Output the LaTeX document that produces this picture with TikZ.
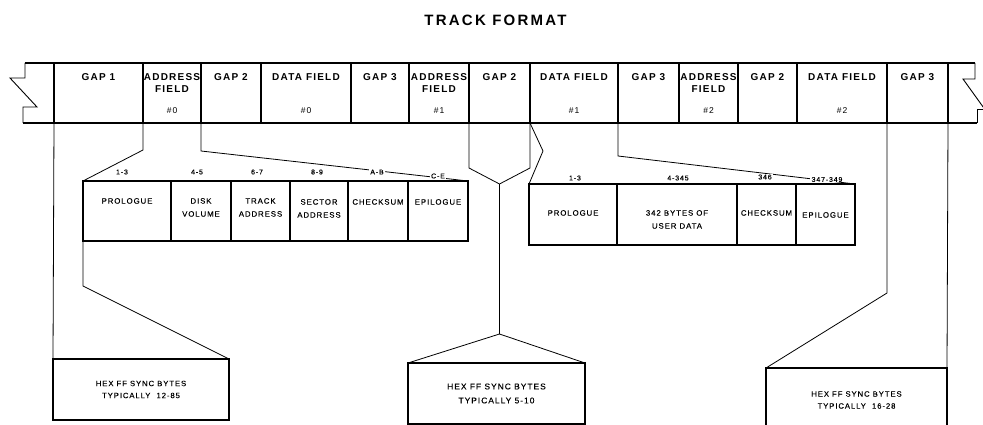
\documentclass[tikz,border=0pt]{standalone}
\usepackage{fontspec}
\setmainfont{Liberation Sans}
\newfontfamily\spaced[LetterSpace=12]{Liberation Sans}
\newfontfamily\spacedmed[LetterSpace=12, FakeBold=0.3]{Liberation Sans}
\newfontfamily\titlefont[LetterSpace=15]{Liberation Sans}
\tikzset{
  cell/.style={draw, line width=1.5pt, minimum height=60pt, inner sep=0pt, outer sep=0pt},
  sub/.style={draw, line width=1.5pt, inner sep=0pt, outer sep=0pt},
  conn/.style={line width=0.8pt},
  notch/.style={line width=0.9pt},
  big/.style={font=\spaced\bfseries\fontsize{10}{12}\selectfont, inner sep=0pt, align=center, anchor=north},
  num/.style={font=\spaced\fontsize{8.5}{10}\selectfont, inner sep=0pt, anchor=south},
  small/.style={font=\spacedmed\fontsize{7.8}{13}\selectfont, inner sep=0pt, align=center, anchor=north},
  idx/.style={font=\spacedmed\fontsize{7}{8}\selectfont, inner xsep=1.5pt, inner ysep=0.4pt, fill=white},
  sync/.style={draw, line width=1.5pt, inner sep=0pt, outer sep=0pt, align=center, font=\spacedmed\fontsize{7.7}{12}\selectfont},
}
\begin{document}
\begin{tikzpicture}[x=1pt,y=-1pt]
\path[use as bounding box] (0,0) rectangle (983,425);
\clip (0,0) rectangle (983,425);

% title
\node[font=\titlefont\bfseries\fontsize{15}{18}\selectfont, inner sep=0pt] (title) at (495.5,20.5) {TRACK FORMAT};

% track strip cells
\node[cell, minimum width=89pt] (c1) at (98.5,93) {};
\node[cell, minimum width=58pt] (c2) at (172,93) {};
\node[cell, minimum width=60pt] (c3) at (231,93) {};
\node[cell, minimum width=90pt] (c4) at (306,93) {};
\node[cell, minimum width=58pt] (c5) at (380,93) {};
\node[cell, minimum width=60pt] (c6) at (439,93) {};
\node[cell, minimum width=61pt] (c7) at (499.5,93) {};
\node[cell, minimum width=88pt] (c8) at (574,93) {};
\node[cell, minimum width=61pt] (c9) at (648.5,93) {};
\node[cell, minimum width=59pt] (c10) at (708.5,93) {};
\node[cell, minimum width=59pt] (c11) at (767.5,93) {};
\node[cell, minimum width=90pt] (c12) at (842,93) {};
\node[cell, minimum width=61pt] (c13) at (917.5,93) {};

\node[big] (t1) at ([yshift=-10pt]c1.north) {GAP 1};
\node[big] (t2) at ([yshift=-10pt]c2.north) {ADDRESS\\FIELD};
\node[big] (t3) at ([yshift=-10pt]c3.north) {GAP 2};
\node[big] (t4) at ([yshift=-10pt]c4.north) {DATA FIELD};
\node[big] (t5) at ([yshift=-10pt]c5.north) {GAP 3};
\node[big] (t6) at ([yshift=-10pt]c6.north) {ADDRESS\\FIELD};
\node[big] (t7) at ([yshift=-10pt]c7.north) {GAP 2};
\node[big] (t8) at ([yshift=-10pt]c8.north) {DATA FIELD};
\node[big] (t9) at ([yshift=-10pt]c9.north) {GAP 3};
\node[big] (t10) at ([yshift=-10pt]c10.north) {ADDRESS\\FIELD};
\node[big] (t11) at ([yshift=-10pt]c11.north) {GAP 2};
\node[big] (t12) at ([yshift=-10pt]c12.north) {DATA FIELD};
\node[big] (t13) at ([yshift=-10pt]c13.north) {GAP 3};

\node[num] (n2) at ([yshift=9pt]c2.south) {\#0};
\node[num] (n4) at ([yshift=9pt]c4.south) {\#0};
\node[num] (n6) at ([yshift=9pt]c6.south) {\#1};
\node[num] (n8) at ([yshift=9pt]c8.south) {\#1};
\node[num] (n10) at ([yshift=9pt]c10.south) {\#2};
\node[num] (n12) at ([yshift=9pt]c12.south) {\#2};

% torn ends of the strip
\draw[line width=1.5pt] (c1.north west) -- (25,63);
\draw[line width=1.5pt] (c1.south west) -- (23,123);
\draw[notch] (25,63) -- (25,78) -- (10,78) -- (37,107) -- (23,107) -- (23,123);
\draw[line width=1.5pt] (c13.north east) -- (975,63);
\draw[line width=1.5pt] (c13.south east) -- (977,123);
\draw[notch] (975,63) -- (975,79) -- (963,79) -- (986,111);
\draw[notch] (986,109) -- (977,109) -- (977,123);

% address field breakdown
\node[sub, minimum width=88pt, minimum height=60pt] (a1) at (127,211) {};
\node[sub, minimum width=60pt, minimum height=60pt] (a2) at (201,211) {};
\node[sub, minimum width=59pt, minimum height=60pt] (a3) at (260.5,211) {};
\node[sub, minimum width=58pt, minimum height=60pt] (a4) at (319,211) {};
\node[sub, minimum width=60pt, minimum height=60pt] (a5) at (378,211) {};
\node[sub, minimum width=60pt, minimum height=60pt] (a6) at (438,211) {};
\node[small] (at1) at ([yshift=-17pt]a1.north) {PROLOGUE};
\node[small] (at2) at ([yshift=-17pt]a2.north) {DISK\\VOLUME};
\node[small] (at3) at ([yshift=-17pt]a3.north) {TRACK\\ADDRESS};
\node[small] (at4) at ([yshift=-18pt]a4.north) {SECTOR\\ADDRESS};
\node[small] (at5) at ([yshift=-18pt]a5.north) {CHECKSUM};
\node[small] (at6) at ([yshift=-18pt]a6.north) {EPILOGUE};

% data field breakdown
\node[sub, minimum width=88pt, minimum height=61pt] (d1) at (573,214.5) {};
\node[sub, minimum width=120pt, minimum height=61pt] (d2) at (677,214.5) {};
\node[sub, minimum width=59pt, minimum height=61pt] (d3) at (766.5,214.5) {};
\node[sub, minimum width=59pt, minimum height=61pt] (d4) at (825.5,214.5) {};
\node[small] (dt1) at ([yshift=-26pt]d1.north) {PROLOGUE};
\node[small] (dt2) at ([yshift=-26pt]d2.north) {342 BYTES OF\\USER DATA};
\node[small] (dt3) at ([yshift=-26pt]d3.north) {CHECKSUM};
\node[small] (dt4) at ([yshift=-28pt]d4.north) {EPILOGUE};

% sync boxes
\node[sync, minimum width=176pt, minimum height=61pt] (s1) at (141,389.5) {HEX FF SYNC BYTES\\TYPICALLY\ \ 12-85};
\node[sync, minimum width=177pt, minimum height=61pt, font=\spacedmed\fontsize{8.4}{14}\selectfont] (s2) at (496.5,393.5) {HEX FF SYNC BYTES\\TYPICALLY 5-10};
\node[sync, minimum width=181pt, minimum height=64pt] (s3) at (856.5,400) {HEX FF SYNC BYTES\\TYPICALLY\ \ 16-28};

% connectors
\coordinate (v) at (499.5,184);
\coordinate (w) at (499.5,334);
\coordinate (dk) at (543,151);
\draw[conn] (c1.south east) -- ++(0,27) -- (a1.north west);
\draw[conn] (c2.south east) -- ++(0,28) -- (a6.north east);
\draw[conn] (a1.south west) -- ++(0,45) -- (s1.north east);
\draw[conn] (c1.south west) -- (s1.north west);
\draw[conn] (c6.south east) -- ++(0,45) -- (v);
\draw[conn] (c7.south east) -- ++(0,45) -- (v);
\draw[conn] (v) -- (w);
\draw[conn] (s2.north west) -- (w) -- (s2.north east);
\draw[conn] (c7.south east) -- (dk) -- (d1.north west);
\draw[conn] (c8.south east) -- ++(0,33) -- (d4.north east);
\draw[conn] (c12.south east) -- ++(0,170) -- (s3.north west);
\draw[conn] (c13.south east) -- (s3.north east);

% byte index labels
\node[idx] (i1) at (122,172) {1-3};
\node[idx] (i2) at (197,172) {4-5};
\node[idx] (i3) at (257,172) {6-7};
\node[idx] (i4) at (317,172) {8-9};
\node[idx] (i5) at (377,172) {A-B};
\node[idx] (i6) at (438,176) {C-E};
\node[idx] (j1) at (575,178) {1-3};
\node[idx] (j2) at (678,178) {4-345};
\node[idx] (j3) at (765,177) {346};
\node[idx] (j4) at (827,179.5) {347-349};
\end{tikzpicture}
\end{document}
